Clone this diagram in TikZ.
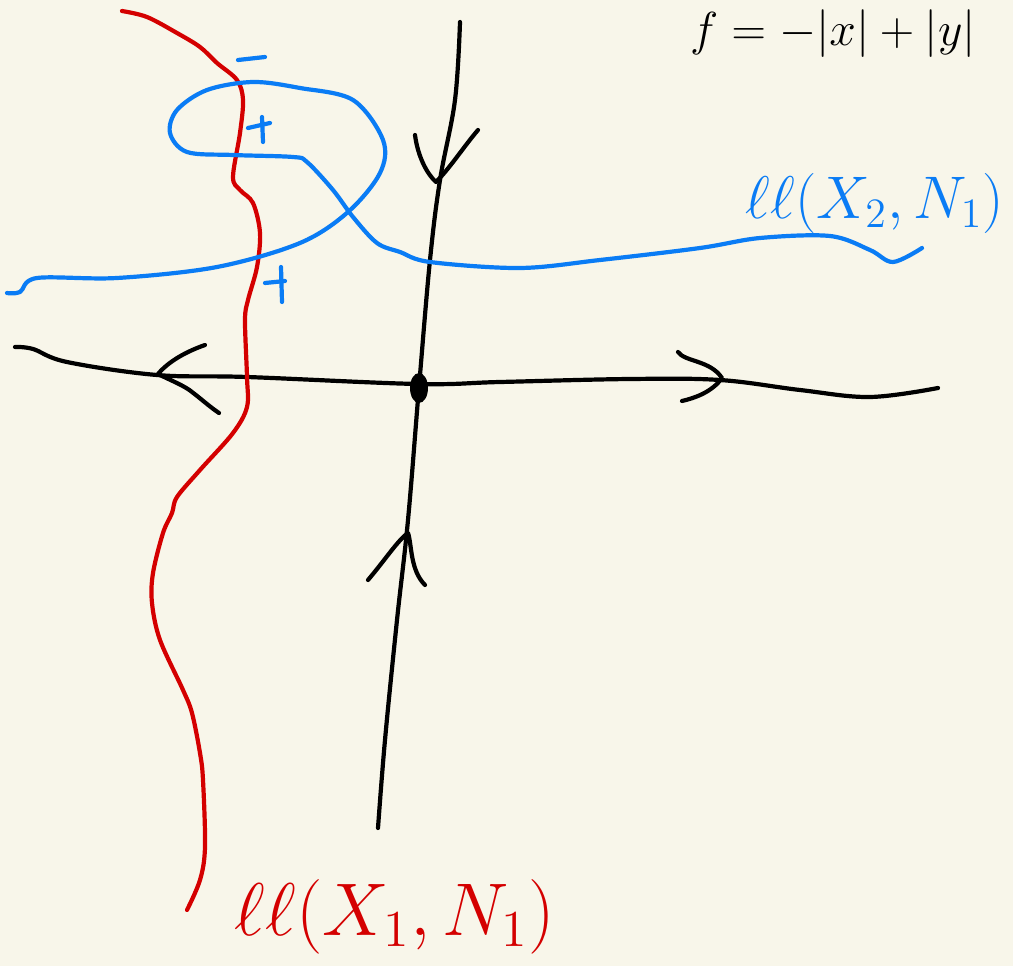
\documentclass[tikz,border=0pt]{standalone}
\definecolor{paper}{RGB}{248,246,234}
\definecolor{penblue}{RGB}{10,124,245}
\definecolor{penred}{RGB}{212,0,0}
\tikzset{
  pen/.style={line width=4.2pt, line cap=round, line join=round},
  blackpen/.style={pen, draw=black},
  bluepen/.style={pen, draw=penblue},
  redpen/.style={pen, draw=penred},
  lbl/.style={inner sep=0pt, anchor=base, font=\fontsize{20}{24}\selectfont},
}
\begin{document}
\begin{tikzpicture}[x=1pt,y=-1pt]
\fill[paper] (0,0) rectangle (1013,966);
\useasboundingbox (0,0) rectangle (1013,966);

% formula
\node[lbl, scale=2.3] (formula) at (833,46) {$f = -|x| + |y|$};

% vertical axis
\draw[blackpen] plot[smooth, tension=0.6] coordinates {(460,22) (455,100) (440,180) (430,260) (419,387) (408,520) (397,620) (385,740) (378,828)};
% top arrow (pointing down)
\draw[blackpen] (415,135) .. controls (418,158) and (428,175) .. (436,182) .. controls (450,168) and (465,145) .. (478,130);
% bottom arrow (pointing up)
\draw[blackpen] (368,580) .. controls (385,560) and (398,540) .. (408,533) .. controls (412,545) and (410,570) .. (425,585);

% horizontal axis
\draw[blackpen] plot[smooth, tension=0.6] coordinates {(15,347) (33,349) (67,362) (157,375) (247,377) (418,384) (500,382) (630,379) (720,380) (800,390) (870,397) (938,388)};
% left arrow
\draw[blackpen] (205,345) .. controls (185,352) and (168,362) .. (158,374) .. controls (170,380) and (185,386) .. (192,392) .. controls (200,398) and (210,407) .. (219,413);
% right arrow
\draw[blackpen] (678,352) .. controls (685,362) and (710,360) .. (722,378) .. controls (712,392) and (695,398) .. (682,401);

% origin dot
\fill[black] (419,388) ellipse [x radius=9, y radius=15];

% red curve
\draw[redpen] plot[smooth, tension=0.55] coordinates {(122,11) (147,17) (177,33) (200,47) (217,63) (237,80) (243,100) (240,133) (233,177) (240,190) (253,203) (260,233) (257,267) (248,300) (245,320) (247,377) (247,407) (233,433) (200,470) (177,497) (172,513) (163,533) (153,573) (152,603) (160,640) (183,690) (192,713) (200,753) (203,780) (205,847) (200,880) (187,910)};

% blue curve
\draw[bluepen] plot[smooth, tension=0.55] coordinates {(7,293) (20,292) (37,278) (117,278) (217,267) (300,243) (348,212) (380,173) (383,140) (353,100) (300,88) (253,82) (207,90) (177,110) (170,133) (187,152) (233,155) (293,157) (307,162) (333,190) (353,217) (377,243) (400,252) (430,262) (520,268) (600,260) (700,248) (760,238) (830,236) (870,250) (893,262) (922,248)};

% signs
\draw[bluepen] (238,60) -- (265,57);
\draw[bluepen] (248,128) -- (270,123) (262,117) -- (263,142);
\draw[bluepen] (265,283) -- (285,281) (281,267) -- (282,302);

% labels
\node[lbl, text=penblue, scale=2.9] (lblue) at (875,218) {$\ell\ell(X_{2},N_{1})$};
\node[lbl, text=penred, scale=3.6] (lred) at (395,935) {$\ell\ell(X_{1},N_{1})$};
\end{tikzpicture}
\end{document}
